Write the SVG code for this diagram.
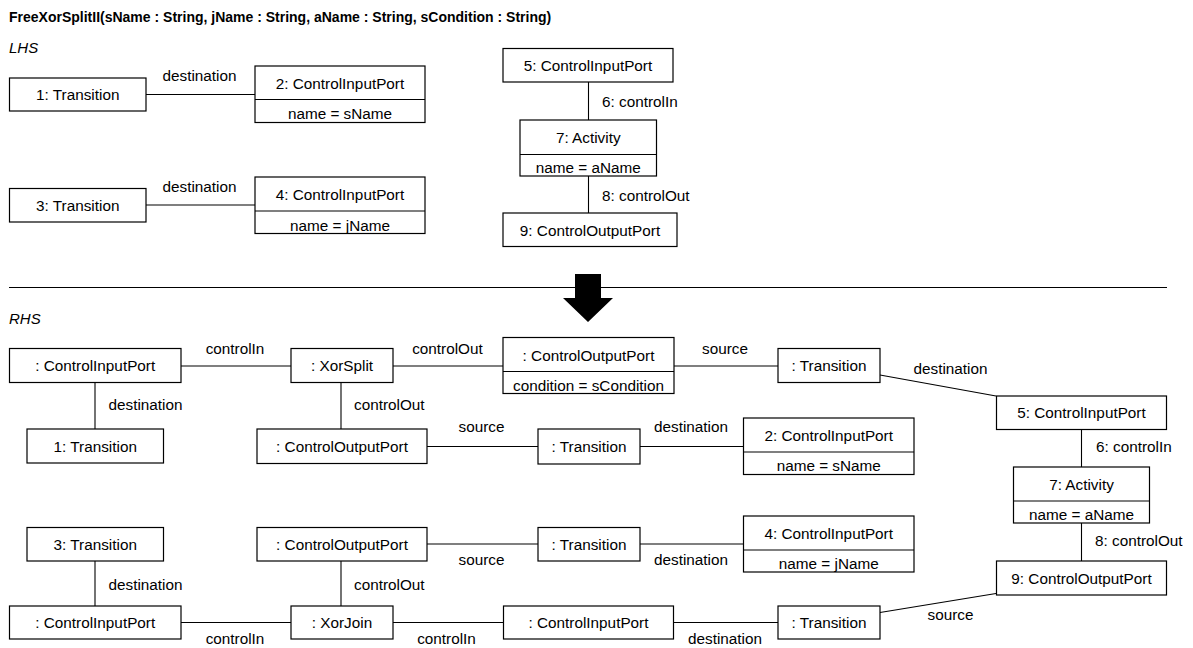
<svg xmlns="http://www.w3.org/2000/svg" width="1193" height="648" viewBox="0 0 1193 648">
  <style>
    .box { fill: #fff; stroke: #000; stroke-width: 1.2; }
    .div { stroke: #000; stroke-width: 1.2; }
    .edge { stroke: #000; stroke-width: 1.1; fill: none; }
    text { font-family: "Liberation Sans", Arial, Helvetica, sans-serif; font-size: 15.3px; fill: #000; }
    .c { text-anchor: middle; }
    .title { font-size: 14px; font-weight: bold; }
    .sec { font-size: 15px; font-style: italic; }
  </style>

  <rect width="1193" height="648" fill="#fff"/>

  <text class="title" x="9" y="21.5">FreeXorSplitII(sName : String, jName : String, aName : String, sCondition : String)</text>
  <text class="sec" x="9" y="53">LHS</text>
  <text class="sec" x="9" y="324">RHS</text>

  <!-- separator and rewrite arrow -->
  <line x1="9" y1="287.5" x2="1167" y2="287.5" stroke="#000" stroke-width="1.2"/>
  <polygon points="575,274 601,274 601,298 613,298 588,322 563,298 575,298" fill="#000"/>

  <!-- connectors -->
  <g id="connectors">
    <!-- left-hand side -->
    <line class="edge" x1="146" y1="94.5" x2="255" y2="94.5"/>
    <line class="edge" x1="146" y1="205" x2="255" y2="205"/>
    <line class="edge" x1="588.5" y1="82" x2="588.5" y2="120"/>
    <line class="edge" x1="588.5" y1="176" x2="588.5" y2="213"/>
    <!-- right-hand side, split -->
    <line class="edge" x1="181" y1="366" x2="291" y2="366"/>
    <line class="edge" x1="95" y1="382" x2="95" y2="429"/>
    <line class="edge" x1="341" y1="382" x2="341" y2="429"/>
    <line class="edge" x1="393" y1="366" x2="503" y2="366"/>
    <line class="edge" x1="674" y1="366" x2="778" y2="366"/>
    <line class="edge" x1="880" y1="375" x2="996" y2="396"/>
    <line class="edge" x1="427" y1="446.5" x2="538" y2="446.5"/>
    <line class="edge" x1="640" y1="446.5" x2="743" y2="446.5"/>
    <line class="edge" x1="1081.5" y1="429" x2="1081.5" y2="467"/>
    <line class="edge" x1="1081.5" y1="523" x2="1081.5" y2="561"/>
    <!-- right-hand side, join -->
    <line class="edge" x1="95" y1="561" x2="95" y2="606"/>
    <line class="edge" x1="341" y1="561" x2="341" y2="606"/>
    <line class="edge" x1="427" y1="544" x2="538" y2="544"/>
    <line class="edge" x1="640" y1="544" x2="743" y2="544"/>
    <line class="edge" x1="181" y1="622.5" x2="291" y2="622.5"/>
    <line class="edge" x1="393" y1="622.5" x2="503" y2="622.5"/>
    <line class="edge" x1="673" y1="622.5" x2="778" y2="622.5"/>
    <line class="edge" x1="880" y1="612.5" x2="996" y2="593.5"/>

    <!-- role labels -->
    <text class="c" x="199.5" y="81">destination</text>
    <text class="c" x="199.5" y="192">destination</text>
    <text x="602" y="107">6: controlIn</text>
    <text x="602" y="201">8: controlOut</text>

    <text class="c" x="235" y="353.5">controlIn</text>
    <text x="108.5" y="410">destination</text>
    <text x="354" y="410">controlOut</text>
    <text class="c" x="447.5" y="353.5">controlOut</text>
    <text class="c" x="725" y="353.5">source</text>
    <text class="c" x="950.5" y="373.5">destination</text>
    <text class="c" x="481.5" y="432">source</text>
    <text class="c" x="691" y="432">destination</text>
    <text x="1096" y="452">6: controlIn</text>
    <text x="1095" y="546">8: controlOut</text>

    <text x="108.5" y="589.5">destination</text>
    <text x="354" y="589.5">controlOut</text>
    <text class="c" x="481.5" y="565">source</text>
    <text class="c" x="691" y="565">destination</text>
    <text class="c" x="235" y="643.5">controlIn</text>
    <text class="c" x="446.5" y="643.5">controlIn</text>
    <text class="c" x="725" y="643.5">destination</text>
    <text class="c" x="950.5" y="620">source</text>
  </g>

  <!-- LHS nodes -->
  <g id="lhs-t1">
    <rect class="box" x="9.5" y="78" width="136.5" height="33"/>
    <text class="c" x="77.75" y="100">1: Transition</text>
  </g>
  <g id="lhs-p2">
    <rect class="box" x="255" y="66" width="170" height="56.5"/>
    <line class="div" x1="255" y1="99.5" x2="425" y2="99.5"/>
    <text class="c" x="340" y="89">2: ControlInputPort</text>
    <text class="c" x="340" y="119">name = sName</text>
  </g>
  <g id="lhs-t3">
    <rect class="box" x="9.5" y="188.5" width="136.5" height="33.5"/>
    <text class="c" x="77.75" y="210.5">3: Transition</text>
  </g>
  <g id="lhs-p4">
    <rect class="box" x="255" y="177" width="170" height="56.5"/>
    <line class="div" x1="255" y1="211" x2="425" y2="211"/>
    <text class="c" x="340" y="200">4: ControlInputPort</text>
    <text class="c" x="340" y="230.5">name = jName</text>
  </g>
  <g id="lhs-p5">
    <rect class="box" x="503" y="48.5" width="170" height="33.5"/>
    <text class="c" x="588" y="70.5">5: ControlInputPort</text>
  </g>
  <g id="lhs-a7">
    <rect class="box" x="520" y="120" width="136.5" height="56"/>
    <line class="div" x1="520" y1="154.5" x2="656.5" y2="154.5"/>
    <text class="c" x="588.25" y="143">7: Activity</text>
    <text class="c" x="588.25" y="173">name = aName</text>
  </g>
  <g id="lhs-o9">
    <rect class="box" x="503" y="213" width="174" height="33.5"/>
    <text class="c" x="590" y="235.5">9: ControlOutputPort</text>
  </g>

  <!-- RHS nodes: split side -->
  <g id="rhs-in-split">
    <rect class="box" x="9.5" y="348.5" width="171.5" height="34"/>
    <text class="c" x="95.25" y="371">: ControlInputPort</text>
  </g>
  <g id="rhs-xorsplit">
    <rect class="box" x="291" y="348.5" width="102" height="34"/>
    <text class="c" x="342" y="371">: XorSplit</text>
  </g>
  <g id="rhs-t1">
    <rect class="box" x="27" y="429" width="136.5" height="34"/>
    <text class="c" x="95.25" y="451.5">1: Transition</text>
  </g>
  <g id="rhs-out-cond">
    <rect class="box" x="503" y="337.5" width="171" height="56"/>
    <line class="div" x1="503" y1="371.5" x2="674" y2="371.5"/>
    <text class="c" x="588.5" y="360.5">: ControlOutputPort</text>
    <text class="c" x="588.5" y="390.5">condition = sCondition</text>
  </g>
  <g id="rhs-t-src1">
    <rect class="box" x="778" y="348.5" width="102" height="34"/>
    <text class="c" x="829" y="371">: Transition</text>
  </g>
  <g id="rhs-out-split">
    <rect class="box" x="257" y="429" width="170" height="34.5"/>
    <text class="c" x="342" y="451.5">: ControlOutputPort</text>
  </g>
  <g id="rhs-t-src2">
    <rect class="box" x="538" y="429" width="102" height="35"/>
    <text class="c" x="589" y="451.5">: Transition</text>
  </g>
  <g id="rhs-p2">
    <rect class="box" x="743.5" y="418" width="170.5" height="56.5"/>
    <line class="div" x1="743.5" y1="452" x2="914" y2="452"/>
    <text class="c" x="828.75" y="441">2: ControlInputPort</text>
    <text class="c" x="828.75" y="471">name = sName</text>
  </g>
  <g id="rhs-p5">
    <rect class="box" x="996.5" y="396" width="170" height="33.5"/>
    <text class="c" x="1081.5" y="418">5: ControlInputPort</text>
  </g>
  <g id="rhs-a7">
    <rect class="box" x="1013.5" y="467" width="136" height="56"/>
    <line class="div" x1="1013.5" y1="501" x2="1149.5" y2="501"/>
    <text class="c" x="1081.5" y="490">7: Activity</text>
    <text class="c" x="1081.5" y="520">name = aName</text>
  </g>
  <g id="rhs-o9">
    <rect class="box" x="996.5" y="561" width="170" height="34"/>
    <text class="c" x="1081.5" y="583.5">9: ControlOutputPort</text>
  </g>

  <!-- RHS nodes: join side -->
  <g id="rhs-t3">
    <rect class="box" x="27" y="527.5" width="136.5" height="33.5"/>
    <text class="c" x="95.25" y="549.5">3: Transition</text>
  </g>
  <g id="rhs-out-join">
    <rect class="box" x="257" y="527.5" width="170" height="33.5"/>
    <text class="c" x="342" y="549.5">: ControlOutputPort</text>
  </g>
  <g id="rhs-t-src3">
    <rect class="box" x="538" y="527.5" width="102" height="33.5"/>
    <text class="c" x="589" y="549.5">: Transition</text>
  </g>
  <g id="rhs-p4">
    <rect class="box" x="743.5" y="516" width="170.5" height="56"/>
    <line class="div" x1="743.5" y1="550" x2="914" y2="550"/>
    <text class="c" x="828.75" y="539">4: ControlInputPort</text>
    <text class="c" x="828.75" y="568.5">name = jName</text>
  </g>
  <g id="rhs-in-join">
    <rect class="box" x="9.5" y="606" width="171.5" height="33"/>
    <text class="c" x="95.25" y="628">: ControlInputPort</text>
  </g>
  <g id="rhs-xorjoin">
    <rect class="box" x="291" y="606" width="102" height="33"/>
    <text class="c" x="342" y="628">: XorJoin</text>
  </g>
  <g id="rhs-in-mid">
    <rect class="box" x="503.5" y="606" width="170" height="33"/>
    <text class="c" x="588.5" y="628">: ControlInputPort</text>
  </g>
  <g id="rhs-t-dst4">
    <rect class="box" x="778" y="606" width="102" height="33"/>
    <text class="c" x="829" y="628">: Transition</text>
  </g>
</svg>
